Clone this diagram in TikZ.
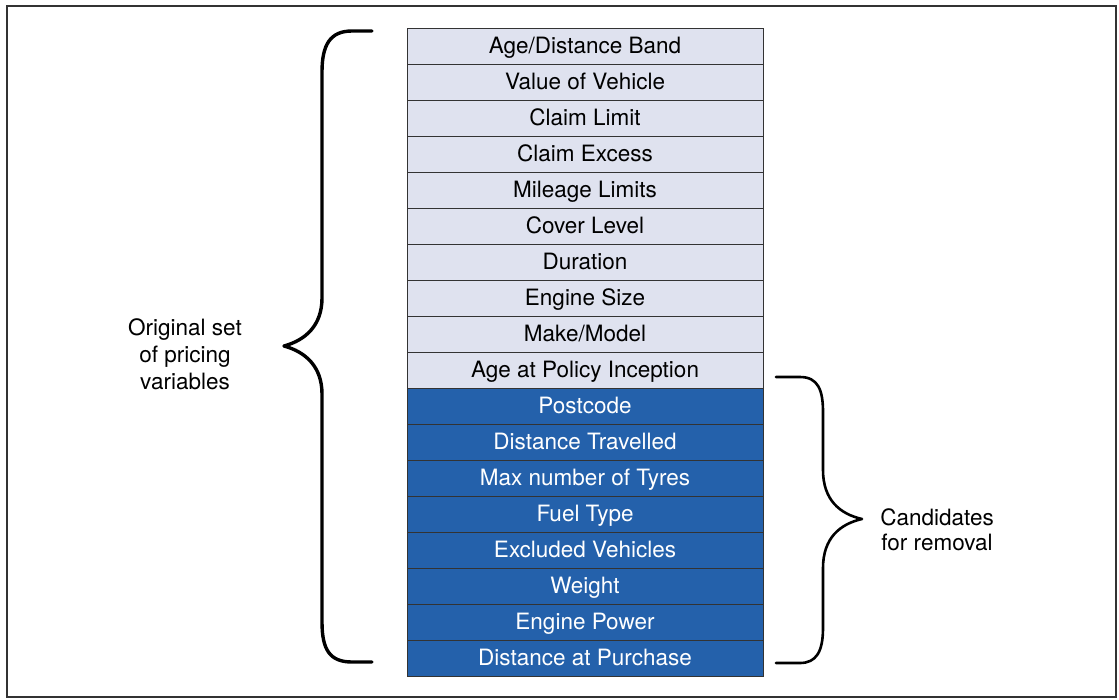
\documentclass[tikz,border=0pt]{standalone}
\usepackage{fontspec}
\setmainfont{TeX Gyre Heros}
\usepackage{xcolor}
\definecolor{keepfill}{HTML}{DFE2EF}
\definecolor{dropfill}{HTML}{2461AB}
\definecolor{frameline}{HTML}{333333}
\tikzset{
  varrow/.style={draw=frameline,line width=0.9pt,minimum width=356pt,minimum height=36pt,inner sep=0pt,
    text height=18pt,text depth=2.5pt,font=\fontsize{22.5}{27}\selectfont},
  keeprow/.style={varrow,fill=keepfill,text=black},
  droprow/.style={varrow,fill=dropfill,text=white},
  bracket/.style={line width=2.6pt,line cap=round,line join=round}
}

\begin{document}
\begin{tikzpicture}[x=1pt,y=-1pt]
\useasboundingbox (0,0) rectangle (1119,699);
\draw[frameline,line width=2pt] (7,6) rectangle (1116,697);
% variables kept in the model
\node[keeprow] (band) at (585,46){Age/Distance Band};
\node[keeprow] (value) at (585,82){Value of Vehicle};
\node[keeprow] (limit) at (585,118){Claim Limit};
\node[keeprow] (excess) at (585,154){Claim Excess};
\node[keeprow] (mileage) at (585,190){Mileage Limits};
\node[keeprow] (cover) at (585,226){Cover Level};
\node[keeprow] (duration) at (585,262){Duration};
\node[keeprow] (engine) at (585,298){Engine Size};
\node[keeprow] (model) at (585,334){Make/Model};
\node[keeprow] (inception) at (585,370){Age at Policy Inception};
% candidates for removal
\node[droprow] (postcode) at (585,406){Postcode};
\node[droprow] (travelled) at (585,442){Distance Travelled};
\node[droprow] (tyres) at (585,478){Max number of Tyres};
\node[droprow] (fuel) at (585,514){Fuel Type};
\node[droprow] (excluded) at (585,550){Excluded Vehicles};
\node[droprow] (weight) at (585,586){Weight};
\node[droprow] (power) at (585,622){Engine Power};
\node[droprow] (purchase) at (585,658){Distance at Purchase};
% braces
\draw[bracket,line width=3.4pt] (372,31) -- (352,31) .. controls (330,31) and (322,45) .. (322,72) -- (322,298)
  .. controls (322,325) and (306,340) .. (284,346) .. controls (306,352) and (322,367) .. (322,394)
  -- (322,622) .. controls (322,650) and (330,662) .. (352,662) -- (372,662);
\draw[bracket] (776,377) -- (800,377) .. controls (818,377) and (823,390) .. (823,412) -- (823,470)
  .. controls (823,500) and (840,514) .. (862,519) .. controls (840,524) and (823,538) .. (823,568)
  -- (823,628) .. controls (823,652) and (816,663) .. (800,663) -- (776,663);
\node[font=\fontsize{22.5}{27}\selectfont,align=center] (original) at (185,354){Original set\\of pricing\\variables};
\node[font=\fontsize{22.5}{25}\selectfont,align=center] (candidates) at (937,530){Candidates\\for removal};
\end{tikzpicture}
\end{document}
